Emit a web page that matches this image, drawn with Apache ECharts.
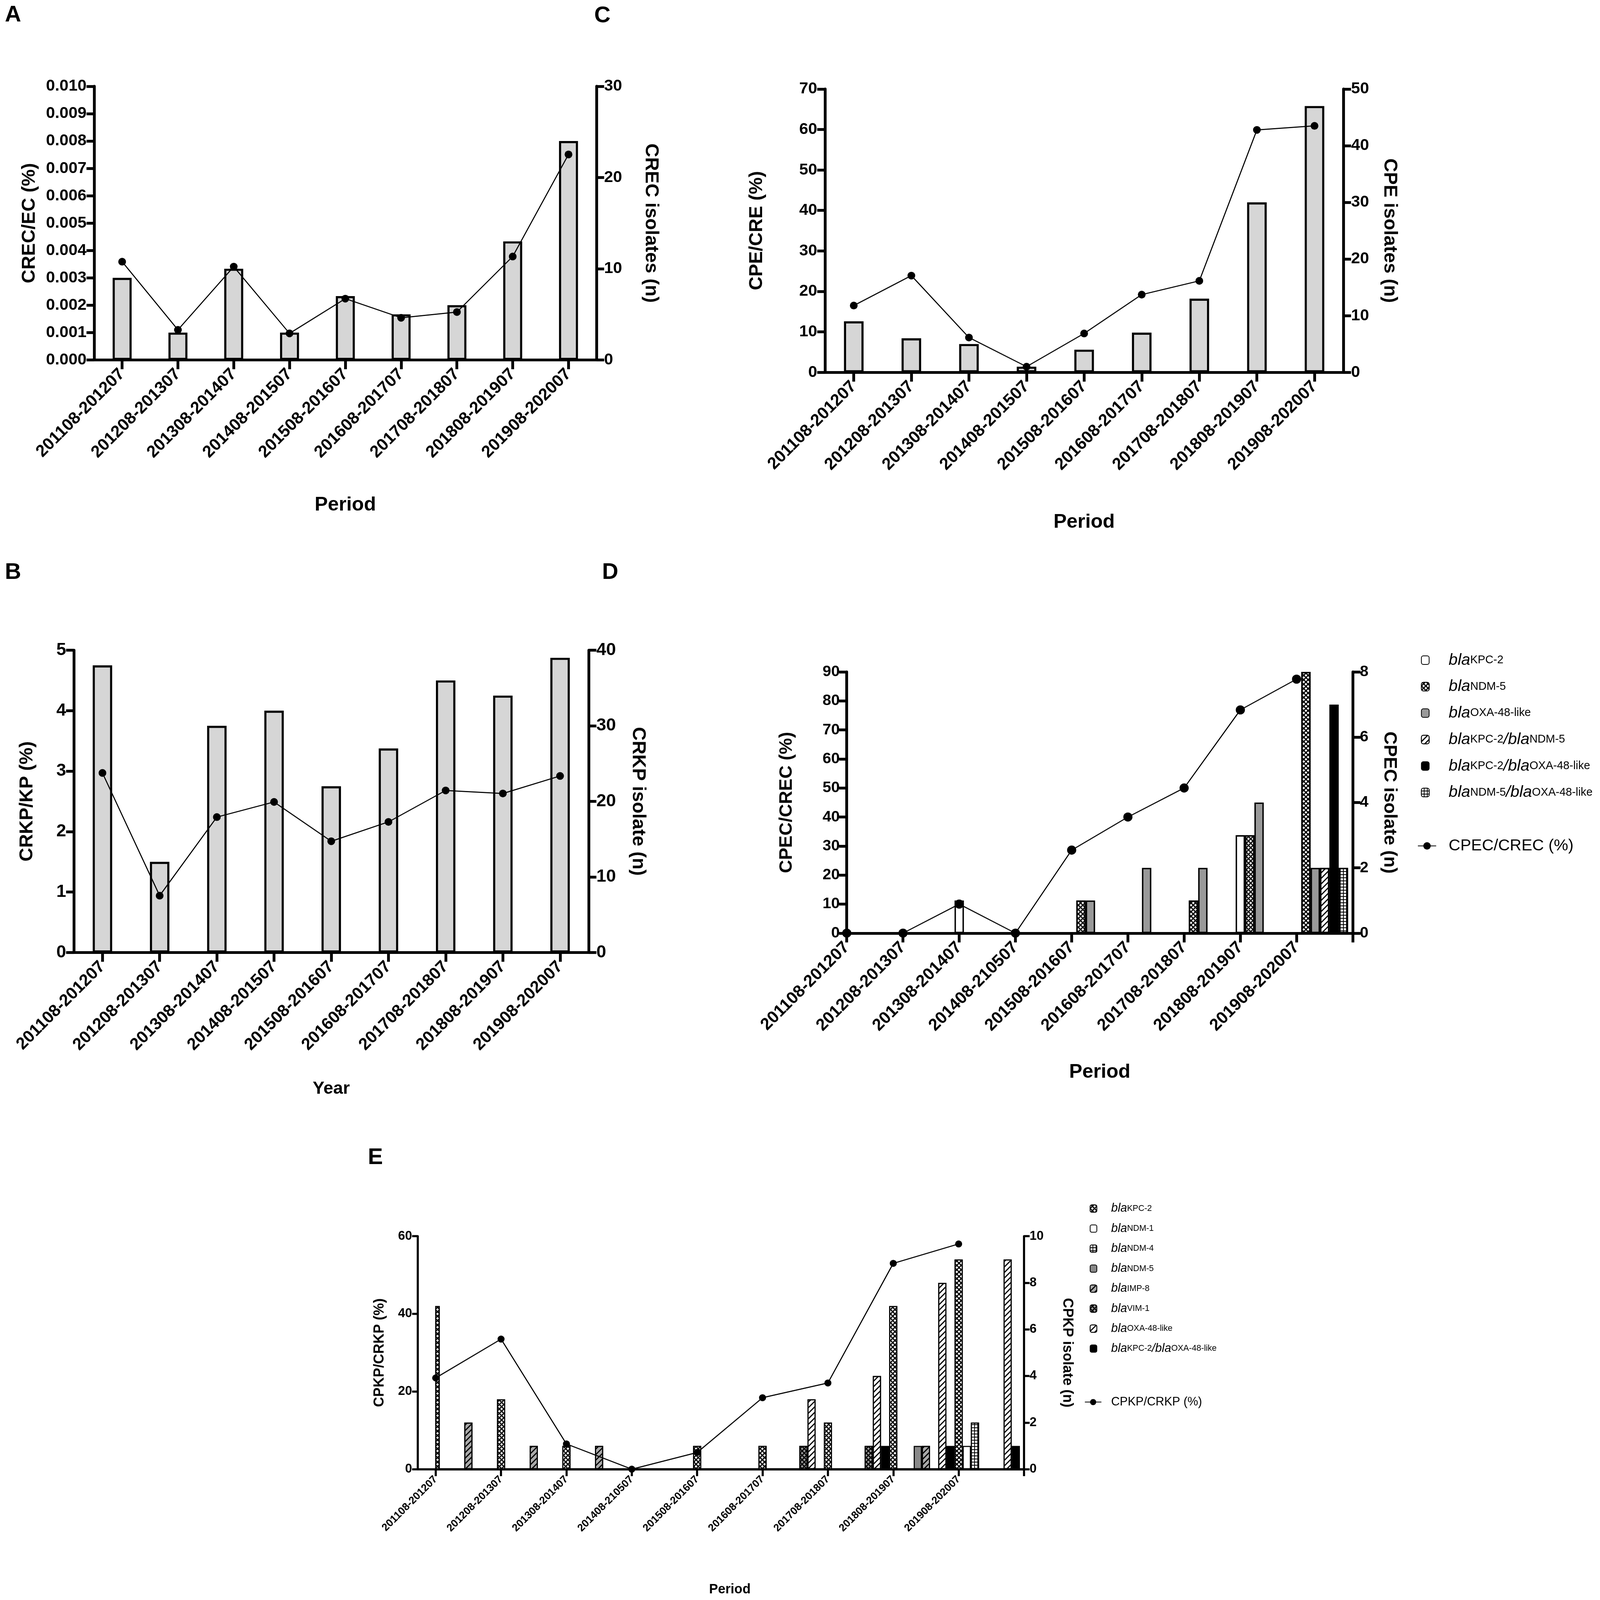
<!DOCTYPE html>
<html><head><meta charset="utf-8">
<script src="https://cdn.jsdelivr.net/npm/echarts@6/dist/echarts.min.js"></script>
<style>html,body{margin:0;padding:0;background:#fff;overflow:hidden}#c{width:100vw;height:100vh}</style>
</head><body><div id="c"></div>
<script>
// ---------- data ----------
const periods = ['201108-201207','201208-201307','201308-201407','201408-201507','201508-201607','201608-201707','201708-201807','201808-201907','201908-202007'];
const periodsDE = ['201108-201207','201208-201307','201308-201407','201408-210507','201508-201607','201608-201707','201708-201807','201808-201907','201908-202007'];

// Panel A
const crecIsolates = [9, 3, 10, 3, 7, 5, 6, 13, 24];
const crecPct = [0.00359, 0.0011, 0.00341, 0.00097, 0.00224, 0.00154, 0.00175, 0.00378, 0.00751];
// Panel B
const crkpIsolates = [38, 12, 30, 32, 22, 27, 36, 34, 39];
const crkpPct = [2.97, 0.94, 2.24, 2.49, 1.84, 2.16, 2.68, 2.63, 2.92];
// Panel C
const cpeIsolates = [9, 6, 5, 1, 4, 7, 13, 30, 47];
const cpePct = [16.5, 23.9, 8.6, 1.4, 9.6, 19.2, 22.6, 59.9, 60.9];
// Panel D
const dKPC2 = [0, 0, 1, 0, 0, 0, 0, 3, 0];
const dNDM5 = [0, 0, 0, 0, 1, 0, 1, 3, 8];
const dOXA48 = [0, 0, 0, 0, 1, 2, 2, 4, 2];
const dKPC2NDM5 = [0, 0, 0, 0, 0, 0, 0, 0, 2];
const dKPC2OXA48 = [0, 0, 0, 0, 0, 0, 0, 0, 7];
const dNDM5OXA48 = [0, 0, 0, 0, 0, 0, 0, 0, 2];
const cpecPct = [0, 0, 10, 0, 28.6, 40, 50, 76.9, 87.5];
// Panel E
const eKPC2 = [7, 3, 1, 0, 1, 1, 2, 7, 9];
const eNDM1 = [0, 0, 0, 0, 0, 0, 0, 0, 1];
const eNDM4 = [0, 0, 0, 0, 0, 0, 0, 0, 2];
const eNDM5 = [0, 0, 0, 0, 0, 0, 0, 1, 0];
const eIMP8 = [2, 1, 1, 0, 0, 0, 0, 1, 0];
const eVIM1 = [0, 0, 0, 0, 0, 1, 1, 0, 0];
const eOXA48 = [0, 0, 0, 0, 0, 3, 4, 8, 9];
const eKPC2OXA48 = [0, 0, 0, 0, 0, 0, 1, 1, 1];
const cpkpPct = [23.5, 33.5, 6.5, 0, 4.3, 18.4, 22.2, 53, 58];

// ---------- scale (layout designed for a 4550 x 4134 canvas, fitted to the window) ----------
const el = document.getElementById('c');
const kx = el.clientWidth / 4550, ky = el.clientHeight / 4134;
const px = v => v * kx;      // horizontal distances
const py = v => v * ky;      // vertical distances
const pf = v => v * Math.min(kx, ky); // font sizes / strokes

// ---------- styles ----------
const FONT = 'Arial, "Liberation Sans", Helvetica, sans-serif';
const hatch = {symbol:'rect', symbolSize:1, color:'#000', dashArrayX:[1,0], dashArrayY:[pf(3),pf(7)], rotation:-Math.PI/4};
const cross = {symbol:'rect', symbolSize:1, color:'#fff', backgroundColor:'#000', dashArrayX:[pf(5),pf(2.5)], dashArrayY:[pf(5),pf(2.5)], rotation:Math.PI/4};
const crossDark = {symbol:'rect', symbolSize:1, color:'#9a9a9a', backgroundColor:'#000', dashArrayX:[pf(5),pf(2.5)], dashArrayY:[pf(5),pf(2.5)], rotation:Math.PI/4};
const gridPat = {symbol:'rect', symbolSize:1, color:'#fff', backgroundColor:'#000', dashArrayX:[pf(6),pf(2)], dashArrayY:[pf(6),pf(2)], rotation:0};

function yAx(gridIndex, pos, min, max, interval, name, o) {
  const a = {
    type:'value', gridIndex, position:pos, min, max, interval, name,
    nameLocation:'middle', nameGap:px(o.nameGap), nameRotate: pos === 'left' ? 90 : -90,
    nameTextStyle:{fontSize:pf(o.nameSize), fontWeight:'bold', color:'#000', fontFamily:FONT},
    axisLine:{show:true, lineStyle:{color:'#000', width:pf(o.lw)}},
    axisTick:{show:true, length:px(o.tl), lineStyle:{color:'#000', width:pf(o.lw)}},
    axisLabel:{fontSize:pf(o.labelSize), fontWeight:'bold', color:'#000', margin:px(o.lm), fontFamily:FONT},
    splitLine:{show:false}, offset:px(o.offset || 0)
  };
  if (o.fmt) a.axisLabel.formatter = o.fmt;
  return a;
}
function xCat(gridIndex, data, boundaryGap, name, o) {
  return {
    type:'category', gridIndex, data, boundaryGap, name, nameLocation:'middle', nameGap:py(o.nameGap),
    nameTextStyle:{fontSize:pf(o.nameSize), fontWeight:'bold', color:'#000', fontFamily:FONT},
    axisLine:{show:true, lineStyle:{color:'#000', width:pf(o.lw)}},
    axisTick:{show:true, alignWithLabel:boundaryGap, interval:0, length:py(o.tl), lineStyle:{color:'#000', width:pf(o.lw)}},
    axisLabel:{interval:0, rotate:45, fontSize:pf(o.labelSize), fontWeight:'bold', color:'#000', margin:py(o.lm), fontFamily:FONT},
    splitLine:{show:false}
  };
}
function hiddenCat(gridIndex, data) {
  return {type:'category', gridIndex, data, boundaryGap:true, show:false};
}
function lineS(name, xi, yi, data, size) {
  return {type:'line', name, xAxisIndex:xi, yAxisIndex:yi, data, symbol:'circle', symbolSize:pf(size),
    itemStyle:{color:'#000'}, lineStyle:{color:'#000', width:pf(3)}, z:5};
}
function barS(name, xi, yi, data, width, fill, decal, bw) {
  const s = {type:'bar', name, xAxisIndex:xi, yAxisIndex:yi, data, barWidth:width, barGap:'0%',
    itemStyle:{color:fill, borderColor:'#000', borderWidth:pf(bw)}};
  if (decal) s.itemStyle.decal = decal;
  return s;
}
function richName(name) {
  const n = name.slice(2);
  if (!n.startsWith('bla')) return '{t|' + n + '}';
  return n.split('/').map(q => '{i|bla}{s|' + q.slice(3) + '}').join('{i|/}');
}
function G(left, top, width, height) {
  return {left:px(left), top:py(top), width:px(width), height:py(height), containLabel:false, outerBoundsMode:'none'};
}

const grids = [
  G(268, 223, 1428, 707),   // A
  G(210, 1680, 1464, 781),  // B
  G(2346, 230, 1474, 732),  // C
  G(2408, 1736, 1439, 675), // D
  G(1239, 3194, 1673, 602), // E
  G(1188, 3194, 1724, 602)  // E frame (x-axis line reaching the left axis)
];

const oABC = {lw:8, tl:22, labelSize:46, lm:22, nameSize:54};
const oX = {lw:8, tl:24, labelSize:48, lm:30, nameSize:56};
const oD = {lw:8, tl:22, labelSize:44, lm:20, nameSize:52};
const oE = {lw:6, tl:16, labelSize:36, lm:16, nameSize:40};

const xAxes = [
  xCat(0, periods, true, 'Period', Object.assign({}, oX, {nameGap:350})),
  xCat(1, periods, true, 'Year', Object.assign({}, oX, {nameGap:330, nameSize:50})),
  xCat(2, periods, true, 'Period', Object.assign({}, oX, {nameGap:362})),
  xCat(3, periodsDE.concat(['']), false, 'Period', Object.assign({}, oX, {nameGap:334})),
  hiddenCat(3, periodsDE),
  xCat(4, periodsDE.concat(['']), false, 'Period', {lw:6, tl:18, labelSize:30, lm:22, nameSize:38, nameGap:294}),
  hiddenCat(4, periodsDE),
  {type:'value', gridIndex:5, min:0, max:1, axisLine:{show:true, lineStyle:{color:'#000', width:pf(6)}},
   axisTick:{show:false}, axisLabel:{show:false}, splitLine:{show:false}}
];

const yAxes = [
  yAx(0, 'left', 0, 0.010, 0.001, 'CREC/EC (%)', Object.assign({}, oABC, {nameGap:157, fmt: v => v.toFixed(3)})),
  yAx(0, 'right', 0, 30, 10, 'CREC isolates (n)', Object.assign({}, oABC, {nameGap:128})),
  yAx(1, 'left', 0, 5, 1, 'CRKP/KP (%)', Object.assign({}, oABC, {nameGap:105, labelSize:50})),
  yAx(1, 'right', 0, 40, 10, 'CRKP isolate (n)', Object.assign({}, oABC, {nameGap:113, labelSize:50})),
  yAx(2, 'left', 0, 70, 10, 'CPE/CRE (%)', Object.assign({}, oABC, {nameGap:166})),
  yAx(2, 'right', 0, 50, 10, 'CPE isolates (n)', Object.assign({}, oABC, {nameGap:105})),
  yAx(3, 'left', 0, 90, 10, 'CPEC/CREC (%)', Object.assign({}, oD, {nameGap:145})),
  yAx(3, 'right', 0, 8, 2, 'CPEC isolate (n)', Object.assign({}, oD, {nameGap:78})),
  yAx(4, 'left', 0, 60, 20, 'CPKP/CRKP (%)', Object.assign({}, oE, {nameGap:88, offset:51})),
  yAx(4, 'right', 0, 10, 2, 'CPKP isolate (n)', Object.assign({}, oE, {nameGap:103})),
  {type:'value', gridIndex:5, show:false, min:0, max:1}
];

const grayABC = '#d6d6d6';
const series = [
  barS('A:isolates', 0, 1, crecIsolates, '34%', grayABC, null, 6),
  lineS('A:pct', 0, 0, crecPct, 22),
  barS('B:isolates', 1, 3, crkpIsolates, '34%', grayABC, null, 6),
  lineS('B:pct', 1, 2, crkpPct, 22),
  barS('C:isolates', 2, 5, cpeIsolates, '34%', grayABC, null, 6),
  lineS('C:pct', 2, 4, cpePct, 22),
  // D
  barS('D:blaKPC-2', 4, 7, dKPC2, '16.667%', '#fff', null, 4),
  barS('D:blaNDM-5', 4, 7, dNDM5, '16.667%', '#fff', cross, 4),
  barS('D:blaOXA-48-like', 4, 7, dOXA48, '16.667%', '#999', null, 4),
  barS('D:blaKPC-2/blaNDM-5', 4, 7, dKPC2NDM5, '16.667%', '#fff', hatch, 4),
  barS('D:blaKPC-2/blaOXA-48-like', 4, 7, dKPC2OXA48, '16.667%', '#000', null, 4),
  barS('D:blaNDM-5/blaOXA-48-like', 4, 7, dNDM5OXA48, '16.667%', '#fff', gridPat, 4),
  {type:'bar', name:'D:_pad', xAxisIndex:4, yAxisIndex:7, data:[], barWidth:'16.667%', barGap:'0%', silent:true},
  lineS('D:CPEC/CREC (%)', 3, 6, cpecPct, 26),
  // E
  barS('E:blaKPC-2', 6, 9, eKPC2, '12.5%', '#fff', cross, 3),
  barS('E:blaNDM-1', 6, 9, eNDM1, '12.5%', '#fff', null, 3),
  barS('E:blaNDM-4', 6, 9, eNDM4, '12.5%', '#fff', gridPat, 3),
  barS('E:blaNDM-5', 6, 9, eNDM5, '12.5%', '#888', null, 3),
  barS('E:blaIMP-8', 6, 9, eIMP8, '12.5%', '#aaa', hatch, 3),
  barS('E:blaVIM-1', 6, 9, eVIM1, '12.5%', '#777', crossDark, 3),
  barS('E:blaOXA-48-like', 6, 9, eOXA48, '12.5%', '#fff', hatch, 3),
  barS('E:blaKPC-2/blaOXA-48-like', 6, 9, eKPC2OXA48, '12.5%', '#000', null, 3),
  {type:'bar', name:'E:_pad', xAxisIndex:6, yAxisIndex:9, data:[], barWidth:'12.5%', barGap:'0%', silent:true},
  lineS('E:CPKP/CRKP (%)', 5, 8, cpkpPct, 20)
];

function richStyles(main, sub, lh, slh) {
  return {
    i:{fontStyle:'italic', fontSize:pf(main), lineHeight:py(lh), fontFamily:FONT, color:'#000'},
    s:{fontSize:pf(sub), lineHeight:py(slh), fontFamily:FONT, color:'#000'},
    t:{fontSize:pf(main), lineHeight:py(lh), fontFamily:FONT, color:'#000'}
  };
}
function L(left, top, iw, ih, gap, pad, data, main, sub, lh, slh) {
  return {orient:'vertical', left:px(left), top:py(top), itemWidth:px(iw), itemHeight:py(ih), itemGap:py(gap),
    selectedMode:false, data, formatter:richName, padding:0,
    textStyle:{color:'#000', fontFamily:FONT, fontSize:pf(main), padding:[0,0,0,px(pad)], rich:richStyles(main, sub, lh, slh)}};
}
const legends = [
  L(4041, 1685, 22, 22, 27, 50,
    ['D:blaKPC-2','D:blaNDM-5','D:blaOXA-48-like','D:blaKPC-2/blaNDM-5','D:blaKPC-2/blaOXA-48-like','D:blaNDM-5/blaOXA-48-like'],
    46, 32, 56, 16),
  L(4031, 2165, 52, 24, 27, 30, ['D:CPEC/CREC (%)'], 46, 32, 56, 16),
  L(3099, 3107, 19, 19, 20.4, 35,
    ['E:blaKPC-2','E:blaNDM-1','E:blaNDM-4','E:blaNDM-5','E:blaIMP-8','E:blaVIM-1','E:blaOXA-48-like','E:blaKPC-2/blaOXA-48-like'],
    34, 24, 42, 12),
  L(3084, 3607, 47, 20, 20, 22, ['E:CPKP/CRKP (%)'], 34, 24, 42, 12)
];

const titleStyle = {fontSize:pf(64), fontWeight:'bold', color:'#000', fontFamily:FONT};
const titles = [
  {text:'A', left:px(14), top:py(10), padding:0, textStyle:titleStyle},
  {text:'B', left:px(14), top:py(1450), padding:0, textStyle:titleStyle},
  {text:'C', left:px(1690), top:py(12), padding:0, textStyle:titleStyle},
  {text:'D', left:px(1712), top:py(1450), padding:0, textStyle:titleStyle},
  {text:'E', left:px(1046), top:py(2962), padding:0, textStyle:titleStyle}
];

const chart = echarts.init(el, null, {renderer:'canvas'});
chart.setOption({
  backgroundColor:'#fff',
  animation:false,
  textStyle:{fontFamily:FONT},
  title:titles,
  legend:legends,
  grid:grids,
  xAxis:xAxes,
  yAxis:yAxes,
  series:series
});
</script></body></html>
